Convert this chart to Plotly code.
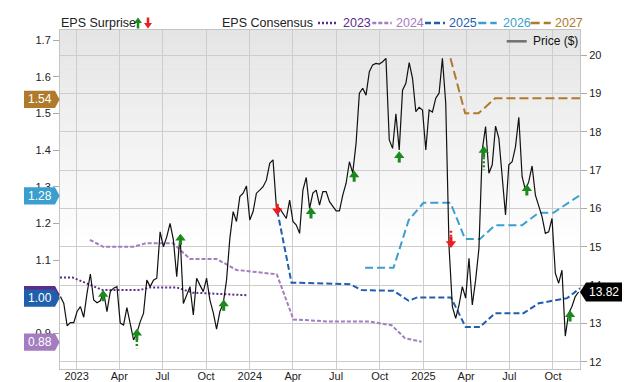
import pandas as pd
import plotly.graph_objects as go

# ---------------- data ----------------
price_start = "2022-11-28"
price_values = [
    13.70, 13.52, 12.94, 13.02, 13.02, 13.31, 13.44, 13.16, 13.79, 14.29,
    13.61, 13.54, 13.59, 13.82, 13.31, 13.83, 13.92, 13.96, 13.01, 12.96,
    13.41, 12.98, 12.57, 12.75, 13.04, 13.26, 14.13, 13.96, 14.13, 14.18,
    15.39, 15.00, 15.26, 15.61, 15.18, 14.22, 15.31, 13.52, 13.74, 13.96,
    13.22, 14.18, 14.00, 13.83, 14.18, 13.61, 13.28, 12.85, 13.31, 13.52,
    14.13, 15.22, 15.92, 15.66, 16.31, 16.40, 16.59, 15.70, 15.92, 16.40,
    16.48, 16.57, 16.74, 17.18, 17.27, 16.05, 16.00, 15.87, 15.74, 16.22,
    15.66, 15.57, 15.35, 16.48, 16.81, 16.00, 16.40, 16.48, 16.09, 16.44,
    16.44, 16.18, 16.05, 15.94, 15.94, 16.35, 16.66, 17.22, 16.93, 17.70,
    19.01, 19.14, 18.96, 19.57, 19.75, 19.79, 19.77, 19.83, 19.92, 17.79,
    17.57, 18.47, 17.53, 19.09, 19.27, 19.81, 19.40, 18.53, 18.64, 18.57,
    17.53, 18.57, 18.52, 18.88, 19.01, 19.92, 18.75, 15.00, 13.44, 13.13,
    13.48, 13.96, 13.66, 14.70, 13.48, 14.13, 14.96, 17.53, 18.14, 16.92,
    17.14, 18.15, 17.83, 16.92, 15.83, 17.14, 17.22, 17.61, 18.38, 16.83,
    16.48, 16.70, 17.11, 16.35, 16.05, 15.79, 15.35, 15.39, 15.74, 14.31,
    14.05, 14.39, 12.67, 13.26, 13.44, 13.70, 13.82,
]
price_dates = pd.date_range(price_start, periods=len(price_values), freq="7D")

eps2023_dates = ["2022-11-27", "2022-12-24", "2023-02-25", "2023-05-14", "2023-06-04",
                 "2023-07-31", "2023-09-03", "2023-12-25"]
eps2023_vals = [1.052, 1.052, 1.018, 1.018, 1.025, 1.025, 1.011, 1.004]

eps2024_dates = ["2023-01-29", "2023-02-26", "2023-04-30", "2023-05-28", "2023-07-23",
                 "2023-08-28", "2023-10-23", "2023-12-04", "2024-02-27", "2024-04-02",
                 "2024-06-18", "2024-09-10", "2024-10-26", "2024-11-23", "2024-12-28"]
eps2024_vals = [1.155, 1.136, 1.136, 1.146, 1.146, 1.103, 1.103, 1.073, 1.061, 0.938,
                0.932, 0.932, 0.922, 0.887, 0.877]

eps2025_dates = ["2024-02-28", "2024-03-29", "2024-04-16", "2024-07-30", "2024-08-24",
                 "2024-10-30", "2024-12-01", "2024-12-19", "2025-02-28", "2025-03-31",
                 "2025-04-30", "2025-06-01", "2025-07-31", "2025-09-01", "2025-10-31",
                 "2025-11-27"]
eps2025_vals = [1.234, 1.038, 1.038, 1.034, 1.018, 1.016, 0.989, 0.998, 0.998, 0.917,
                0.917, 0.955, 0.955, 0.982, 0.996, 1.023]

eps2026_dates = ["2024-08-31", "2024-10-30", "2024-12-01", "2025-01-01", "2025-02-27",
                 "2025-03-30", "2025-04-30", "2025-06-01", "2025-07-28", "2025-09-01",
                 "2025-10-02", "2025-11-27"]
eps2026_vals = [1.079, 1.079, 1.209, 1.256, 1.256, 1.157, 1.157, 1.195, 1.195, 1.229,
                1.229, 1.277]

eps2027_dates = ["2025-02-27", "2025-03-30", "2025-04-27", "2025-06-01", "2025-11-27"]
eps2027_vals = [1.650, 1.500, 1.500, 1.541, 1.541]

surprise_dates = ["2023-02-26", "2023-05-08", "2023-08-08", "2023-11-07", "2024-02-28",
                  "2024-05-09", "2024-08-08", "2024-11-11", "2025-02-28", "2025-05-08",
                  "2025-08-07", "2025-11-06"]
surprise_dir = ["up", "up", "up", "up", "down", "up", "up", "up", "down", "up", "up", "up"]
surprise_tip = [13.84, 12.83, 15.31, 13.59, 15.86, 16.00, 16.96, 17.46, 15.00, 17.60,
                16.60, 13.31]
surprise_stem_end = [None, 12.35, None, None, None, None, None, None, 15.46, 17.01,
                     16.38, 13.07]

tag_values = [1.006, 0.996, 1.275, 1.538, 0.876]
tag_texts = ["", "1.00", "1.28", "1.54", "0.88"]
tag_colors = ["#5b2d86", "#1f5fad", "#3a9fcf", "#b07a2c", "#a47cc0"]

last_price = 13.82
last_price_text = "13.82"

x_tick_vals = ["2023-01-01", "2023-04-01", "2023-07-01", "2023-10-01", "2024-01-01",
               "2024-04-01", "2024-07-01", "2024-10-01", "2025-01-01", "2025-04-01",
               "2025-07-01", "2025-10-01"]
x_tick_text = ["2023", "Apr", "Jul", "Oct", "2024", "Apr", "Jul", "Oct", "2025", "Apr",
               "Jul", "Oct"]

series_names = ["2023", "2024", "2025", "2026", "2027"]
series_colors = ["#5b2d86", "#a47cc0", "#1f5fad", "#3a9fcf", "#b07a2c"]
series_dash = ["2px,2px", "4px,2px", "6px,3px", "8px,4px", "9px,4px"]

FONT = "Liberation Sans, Arial, sans-serif"
GREEN = "#1a8a1a"
RED = "#ee1c1c"

# geometry helpers (pixels -> axis / paper units)
W, H = 640, 382
ML, MR, MT, MB = 60, 60, 30, 13
PW, PH = W - ML - MR, H - MT - MB
Y2_RANGE = [11.81, 20.66]
Y_RANGE = [0.8028, 1.7273]
PPP = PH / (Y2_RANGE[1] - Y2_RANGE[0])   # pixels per price unit
PPE = PH / (Y_RANGE[1] - Y_RANGE[0])     # pixels per eps unit


def px_x(px):
    return (px - ML) / PW


def px_y(py):
    return (H - MB - py) / PH


# ---------------- figure ----------------
fig = go.Figure()

series = [(eps2023_dates, eps2023_vals), (eps2024_dates, eps2024_vals),
          (eps2025_dates, eps2025_vals), (eps2026_dates, eps2026_vals),
          (eps2027_dates, eps2027_vals)]
for (d, v), name, col, dash in zip(series, series_names, series_colors, series_dash):
    fig.add_trace(go.Scatter(x=d, y=v, mode="lines", name=name, yaxis="y",
                             line=dict(color=col, width=2, dash=dash),
                             hoverinfo="skip", showlegend=False))

fig.add_trace(go.Scatter(x=price_dates, y=price_values, mode="lines", name="Price ($)",
                         yaxis="y2", line=dict(color="#111111", width=1.2),
                         showlegend=False))

# surprise arrows: head marker + short solid shaft + dotted stem
for d, dr, tip, stem in zip(surprise_dates, surprise_dir, surprise_tip, surprise_stem_end):
    col = GREEN if dr == "up" else RED
    s = -1 if dr == "up" else 1          # direction from tip towards tail
    shaft_a = tip + s * 4.5 / PPP
    shaft_b = tip + s * 10 / PPP
    if stem is not None and (stem - shaft_b) * s > 0:
        fig.add_trace(go.Scatter(x=[d, d], y=[shaft_b, stem], mode="lines", yaxis="y2",
                                 line=dict(color=col, width=2.5, dash="2px,2px"),
                                 hoverinfo="skip", showlegend=False))
    fig.add_trace(go.Scatter(x=[d, d], y=[shaft_a, shaft_b], mode="lines", yaxis="y2",
                             line=dict(color=col, width=3),
                             hoverinfo="skip", showlegend=False))
    fig.add_trace(go.Scatter(x=[d], y=[tip + s * 3.2 / PPP], mode="markers", yaxis="y2",
                             marker=dict(symbol="triangle-up" if dr == "up" else "triangle-down",
                                         size=9, color=col, line=dict(width=0)),
                             hoverinfo="skip", showlegend=False))

annotations = []
shapes = []
# background gradient
N = 30
top_g, bot_g = 229, 255
for k in range(N):
    y1 = 1 - k * 0.65 / N
    y0 = 1 - (k + 1) * 0.65 / N
    g = int(round(top_g + (bot_g - top_g) * k / (N - 1)))
    shapes.append(dict(type="rect", xref="x domain", yref="y domain", x0=0, x1=1,
                       y0=y0, y1=y1 + 0.001, fillcolor=f"rgb({g},{g},{g})",
                       line=dict(width=0), layer="below"))


def tag_path(x0, x1, xt, yc, h):
    return f"M{x0},{yc-h} L{x1},{yc-h} L{xt},{yc} L{x1},{yc+h} L{x0},{yc+h} Z"


# left consensus tags
h_eps = 8.6 / PPE
for v, t, c in zip(tag_values, tag_texts, tag_colors):
    shapes.append(dict(type="path", xref="paper", yref="y",
                       path=tag_path(px_x(24), px_x(55), px_x(59.6), v, h_eps),
                       fillcolor=c, line=dict(width=0), layer="above"))
    if t:
        annotations.append(dict(x=px_x(39.5), y=v, xref="paper", yref="y", text=t,
                                showarrow=False, xanchor="center", yanchor="middle",
                                font=dict(family=FONT, size=12, color="white")))

# right price tag
h_p = 9.5 / PPP
shapes.append(dict(type="path", xref="paper", yref="y2",
                   path=tag_path(px_x(622), px_x(586), px_x(580), last_price, h_p),
                   fillcolor="#000000", line=dict(width=0), layer="above"))
annotations.append(dict(x=px_x(604), y=last_price, xref="paper", yref="y2",
                        text=last_price_text, showarrow=False, xanchor="center",
                        yanchor="middle", font=dict(family=FONT, size=12, color="white")))

# top legend
LY = px_y(23)
annotations.append(dict(x=px_x(59), y=LY, xref="paper", yref="paper", text="EPS Surprise",
                        showarrow=False, xanchor="left", yanchor="middle",
                        font=dict(family=FONT, size=12.5, color="#222")))
# legend arrows (green up, red down)
for cx, up, col in [(138, True, GREEN), (148, False, RED)]:
    if up:
        head = f"M{px_x(cx-4)},{px_y(23)} L{px_x(cx)},{px_y(17.5)} L{px_x(cx+4)},{px_y(23)} Z"
        shaft = (px_y(23), px_y(28.5))
    else:
        head = f"M{px_x(cx-4)},{px_y(23)} L{px_x(cx)},{px_y(28.5)} L{px_x(cx+4)},{px_y(23)} Z"
        shaft = (px_y(17.5), px_y(23))
    shapes.append(dict(type="path", xref="paper", yref="paper", path=head,
                       fillcolor=col, line=dict(width=0)))
    shapes.append(dict(type="line", xref="paper", yref="paper", x0=px_x(cx), x1=px_x(cx),
                       y0=shaft[0], y1=shaft[1], line=dict(color=col, width=2.5)))

annotations.append(dict(x=px_x(220), y=LY, xref="paper", yref="paper", text="EPS Consensus",
                        showarrow=False, xanchor="left", yanchor="middle",
                        font=dict(family=FONT, size=12.5, color="#222")))
leg_line_px = [(318, 337), (372.3, 391.7), (425, 445), (478.3, 496.7), (530.7, 550.7)]
leg_text_px = [340.7, 394, 447.3, 500.7, 553.3]
for (x0, x1), tx, name, col, dash in zip(leg_line_px, leg_text_px, series_names,
                                         series_colors, series_dash):
    shapes.append(dict(type="line", xref="paper", yref="paper", x0=px_x(x0), x1=px_x(x1),
                       y0=LY, y1=LY, line=dict(color=col, width=2.5, dash=dash)))
    annotations.append(dict(x=px_x(tx), y=LY, xref="paper", yref="paper", text=name,
                            showarrow=False, xanchor="left", yanchor="middle",
                            font=dict(family=FONT, size=12.5, color=col)))

# price legend inside plot
shapes.append(dict(type="line", xref="paper", yref="paper", x0=px_x(506.7), x1=px_x(526.7),
                   y0=px_y(41.3), y1=px_y(41.3), line=dict(color="#707070", width=2.5)))
annotations.append(dict(x=px_x(531), y=px_y(41.3), xref="paper", yref="paper",
                        text="Price ($)", showarrow=False, xanchor="left", yanchor="middle",
                        font=dict(family=FONT, size=12, color="#111")))

fig.update_layout(
    width=W, height=H,
    margin=dict(l=ML, r=MR, t=MT, b=MB, autoexpand=False),
    paper_bgcolor="white", plot_bgcolor="rgba(0,0,0,0)",
    font=dict(family=FONT, size=11, color="#222"),
    showlegend=False,
    xaxis=dict(type="date", range=["2022-11-27", "2025-11-27"],
               tickvals=x_tick_vals, ticktext=x_tick_text, automargin=False,
               showgrid=True, gridcolor="#cdcdcd", gridwidth=1,
               showline=True, linecolor="#c4c4c4", mirror=True, ticks="",
               ticklabelstandoff=-3,
               tickfont=dict(size=11, color="#222"), zeroline=False),
    yaxis=dict(range=Y_RANGE, dtick=0.1, tick0=0.9, tickformat=".1f", automargin=False,
               showgrid=False, zeroline=False, showline=True, linecolor="#c4c4c4",
               ticks="outside", ticklen=6, tickcolor="#aaaaaa",
               tickfont=dict(size=11, color="#222")),
    yaxis2=dict(range=Y2_RANGE, dtick=1, overlaying="y", side="right", automargin=False,
                showgrid=True, gridcolor="#cdcdcd", gridwidth=1, zeroline=False,
                showline=True, linecolor="#c4c4c4", ticks="outside", ticklen=6,
                tickcolor="#aaaaaa", tickfont=dict(size=11, color="#222")),
    shapes=shapes,
    annotations=annotations,
)

fig.write_html("out.html", config={"displayModeBar": False},
               post_script="document.body.style.margin='0px';document.body.style.padding='0px';")
